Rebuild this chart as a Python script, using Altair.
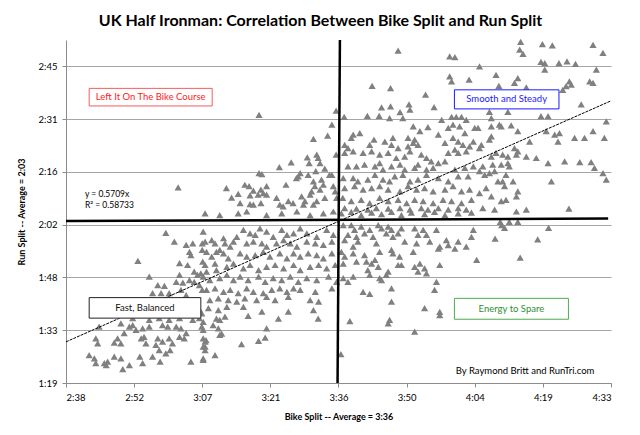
import altair as alt
import pandas as pd

# (bike split, run split) in minutes
fast_zone = [
    (182.1, 132.6), (179.5, 120.2), (181.3, 117.8), (183.8, 116.9), (185.2, 117.3), (184.5, 115.0),
    (184.8, 114.1), (187.2, 117.3), (173.6, 112.5), (187.3, 112.3), (182.4, 111.9), (184.1, 111.4),
    (185.5, 109.6), (186.2, 108.7), (186.9, 109.1), (176.0, 108.2), (177.8, 105.9), (179.2, 105.7),
    (182.4, 108.7), (181.7, 106.8), (183.1, 106.6), (184.5, 107.3), (182.7, 104.6), (183.8, 103.2),
    (185.5, 106.8), (186.6, 105.9), (176.7, 103.7), (178.5, 103.7), (180.2, 103.7), (165.4, 94.6),
    (170.0, 95.5), (171.8, 94.6), (172.5, 95.0), (170.7, 92.8), (169.3, 91.4), (170.0, 90.0),
    (168.6, 90.2), (173.2, 93.7), (174.6, 94.1), (176.0, 94.6), (174.9, 91.8), (175.3, 90.0),
    (174.3, 91.4), (164.7, 91.4), (165.1, 90.0), (163.3, 86.8), (164.4, 85.9), (164.7, 84.6),
    (166.5, 84.6), (166.9, 84.1), (167.2, 85.0), (168.6, 86.4), (170.0, 85.9), (171.8, 84.1),
    (174.6, 84.6), (176.7, 86.4), (178.1, 88.2), (177.4, 89.6), (179.5, 87.3), (177.8, 91.4),
    (178.8, 90.5), (180.2, 91.4), (180.9, 90.0), (178.8, 95.0), (179.9, 94.6), (181.7, 94.6),
    (182.7, 94.1), (183.8, 92.8), (183.4, 91.4), (182.4, 91.8), (184.8, 85.0), (172.5, 96.9),
    (176.0, 96.4), (178.1, 96.9), (180.2, 96.4), (182.4, 96.9), (185.2, 96.4), (186.6, 96.9),
    (178.3, 85.0), (180.4, 88.2), (187.4, 85.5), (170.4, 83.0), (174.0, 86.4), (187.2, 115.5),
    (187.2, 104.6), (186.7, 99.1), (187.4, 93.7), (187.8, 89.1), (188.0, 90.9),
]

core_top = [
    (199.2, 152.4), (215.5, 153.5), (214.6, 149.7), (213.7, 146.7), (210.7, 145.8), (215.5, 141.5),
    (211.4, 141.5), (211.7, 140.6), (209.4, 140.8), (209.8, 139.2), (212.1, 139.2), (206.0, 139.4),
    (203.5, 138.1), (211.2, 137.0), (213.1, 137.7), (214.1, 136.0), (207.9, 136.5), (207.5, 135.6),
    (207.1, 135.1), (209.6, 136.0), (199.2, 136.5), (199.8, 136.2), (204.9, 133.3), (200.8, 132.9),
    (196.2, 133.3), (197.1, 132.9), (192.3, 132.4), (194.8, 130.8), (193.4, 129.8), (195.2, 128.3),
    (198.0, 131.7), (199.6, 132.0), (200.1, 131.0), (199.0, 130.6), (197.3, 130.4), (200.8, 130.6),
    (202.9, 129.7), (197.3, 128.0), (198.0, 127.9), (199.6, 128.3), (203.6, 127.9), (204.3, 127.4),
    (205.4, 128.8), (206.4, 128.3), (208.2, 130.1), (208.9, 128.8), (208.6, 127.9), (210.7, 134.2),
    (211.0, 132.9), (210.3, 131.5), (210.0, 130.6), (212.4, 134.7), (212.8, 133.3), (212.1, 132.0),
    (213.1, 129.7), (211.4, 128.8), (210.7, 127.9), (214.6, 136.0), (214.9, 132.9), (215.3, 131.5),
    (215.6, 129.7),
]

core_low = [
    (187.8, 125.5), (190.9, 125.0), (194.8, 125.5), (196.6, 126.0), (200.8, 125.0), (204.0, 125.5),
    (207.2, 126.0), (210.0, 125.0), (212.8, 125.5), (214.9, 126.0),
    (187.4, 120.5), (187.8, 117.8), (189.2, 118.2), (189.9, 117.3), (191.7, 118.7), (192.0, 117.3),
    (190.9, 115.5), (193.1, 116.4), (193.8, 117.8), (194.5, 119.1),
    (195.9, 121.0), (197.3, 120.0), (198.4, 119.6), (199.4, 121.4), (200.8, 120.5), (202.2, 119.1),
    (204.0, 121.0), (205.1, 119.6), (206.5, 120.0), (207.9, 121.4), (209.3, 120.0), (211.4, 119.1),
    (213.5, 121.0), (214.9, 119.6),
    (196.6, 117.3), (198.0, 117.8), (199.8, 117.3), (200.8, 116.4), (202.9, 117.3), (204.4, 118.2),
    (205.8, 117.3), (207.2, 116.4), (209.3, 117.8), (211.1, 117.3), (212.8, 116.9), (214.6, 117.8),
    (188.1, 115.0), (190.2, 115.0), (189.2, 113.7), (191.7, 114.6), (192.7, 113.2), (195.2, 114.6),
    (196.6, 113.7), (198.4, 114.1), (200.1, 115.0), (201.5, 113.7), (203.6, 114.6), (205.1, 113.2),
    (206.5, 114.6), (207.9, 113.7), (209.6, 114.6), (211.4, 114.1), (212.8, 113.2), (214.6, 114.6),
    (187.8, 111.4), (189.9, 111.8), (188.1, 109.6), (190.2, 110.0), (192.4, 110.9), (193.8, 111.8),
    (195.9, 110.5), (197.3, 111.4), (199.1, 110.0), (200.8, 110.9), (202.6, 111.4), (204.4, 110.5),
    (206.5, 111.4), (207.9, 110.0), (210.0, 110.9), (211.8, 111.4), (213.5, 110.5), (215.3, 111.4),
    (187.4, 108.2), (188.8, 107.3), (190.9, 107.8), (192.4, 108.7), (193.8, 107.3), (195.2, 108.2),
    (196.9, 107.3), (199.1, 108.2), (200.5, 106.8), (202.2, 107.8), (204.0, 107.3), (205.8, 108.2),
    (207.5, 106.8), (209.3, 107.8), (211.4, 107.3), (213.9, 108.2), (215.6, 106.8),
    (188.1, 104.6), (189.9, 105.0), (191.7, 104.1), (193.1, 104.6), (194.8, 103.7), (196.6, 105.0),
    (198.0, 104.1), (200.1, 103.7), (201.9, 104.6), (203.6, 105.0), (205.1, 104.1), (206.5, 105.0),
    (207.9, 104.6), (211.1, 104.1), (214.6, 105.0),
    (188.8, 101.8), (190.6, 102.3), (192.7, 101.8), (194.5, 101.4), (196.2, 102.3), (198.7, 101.8),
    (200.8, 102.7), (202.6, 101.8), (205.4, 102.7), (210.0, 101.8), (211.8, 101.4),
    (188.5, 99.6), (190.6, 99.1), (192.4, 100.0), (195.9, 100.0), (199.8, 98.7), (203.3, 96.8),
    (205.4, 98.7), (210.7, 99.1), (211.7, 96.8), (190.2, 96.8), (192.0, 97.3), (190.9, 96.4),
    (196.9, 97.5), (189.5, 95.0), (190.6, 94.1), (190.9, 92.3), (191.3, 92.7), (200.8, 94.1),
    (187.4, 91.4), (187.8, 90.5), (187.4, 89.1), (187.8, 88.2), (187.4, 85.9), (189.9, 86.8),
    (195.5, 89.8), (199.1, 90.7), (200.5, 91.6), (187.1, 98.2), (187.4, 95.9), (187.1, 94.6),
]

spare_zone = [
    (216.6, 125.5), (218.7, 125.9), (220.8, 125.0), (223.0, 125.7), (225.1, 125.3), (227.2, 125.9),
    (229.3, 125.0), (231.4, 125.7), (234.2, 125.3), (236.3, 125.9), (238.5, 125.0), (241.3, 125.5),
    (244.1, 125.7),
    (217.0, 122.3), (218.7, 122.3), (219.4, 121.0), (220.8, 121.9), (221.5, 120.0), (218.0, 119.6),
    (217.3, 118.2), (220.1, 117.8), (219.1, 116.4), (223.3, 119.1), (224.0, 117.3), (225.1, 121.4),
    (226.1, 120.0), (226.5, 121.9), (227.2, 121.0), (227.5, 119.1), (228.6, 120.0), (229.3, 121.4),
    (230.0, 117.8), (232.1, 121.4), (232.8, 119.6), (233.9, 121.0), (234.6, 119.6), (235.3, 117.8),
    (232.5, 117.3), (231.8, 115.0), (236.7, 121.0), (237.1, 115.9), (237.4, 116.4), (238.8, 118.2),
    (239.2, 116.8), (240.6, 115.9), (241.3, 117.8), (243.0, 116.4), (244.1, 119.1), (244.5, 121.0),
    (245.2, 112.8), (216.6, 115.0), (217.3, 113.7), (217.0, 111.8), (219.1, 114.6), (219.8, 112.3),
    (221.5, 114.1), (221.9, 112.3), (223.0, 111.8), (223.7, 112.8), (224.7, 115.0), (227.2, 115.5),
    (227.5, 114.6), (228.9, 113.7), (222.2, 110.0), (222.6, 108.7), (224.4, 110.9), (226.5, 109.6),
    (226.1, 108.7), (228.6, 111.4), (229.3, 111.4), (232.1, 110.9), (232.8, 109.6), (233.2, 111.8),
    (234.2, 110.5), (234.6, 109.1), (237.4, 111.4), (217.0, 107.8), (218.0, 106.8), (219.1, 108.2),
    (224.7, 107.8), (225.1, 107.3), (221.2, 104.1), (222.6, 103.5), (227.2, 105.0), (227.2, 101.4),
    (236.7, 106.8), (236.3, 104.6), (234.2, 99.6), (237.4, 98.6), (237.4, 97.7), (218.4, 96.1),
    (226.5, 95.5), (226.8, 96.4), (232.1, 93.2), (216.5, 87.1), (219.8, 119.1), (222.6, 121.0),
    (224.4, 122.3),
    (249.1, 118.6), (250.5, 122.3), (251.1, 121.5), (250.2, 123.2), (252.1, 123.2), (253.9, 123.2),
    (254.4, 113.4), (258.1, 118.4), (260.4, 121.5),
]

steady_mid = [
    (228.6, 169.9), (239.5, 168.3), (240.6, 168.1), (239.5, 162.9), (239.9, 161.5), (243.6, 162.0),
    (223.1, 160.3), (227.0, 159.7), (234.4, 157.9), (225.1, 154.4), (227.0, 154.7), (230.9, 155.2),
    (231.1, 153.8), (236.2, 154.5), (217.2, 151.8), (222.1, 152.1), (224.6, 152.1), (226.8, 151.5),
    (229.0, 153.1), (229.6, 151.5), (237.8, 151.0), (239.9, 151.8), (240.9, 151.8), (242.0, 151.8),
    (243.0, 151.0), (231.8, 149.2), (233.2, 147.9), (234.9, 149.0), (237.1, 147.0), (239.2, 148.8),
    (240.2, 149.7), (241.6, 149.2), (242.7, 147.4), (244.8, 148.8), (219.1, 147.0), (220.5, 147.4),
    (218.7, 146.1), (217.3, 144.2), (218.0, 143.3), (223.5, 145.6), (222.6, 144.2), (225.8, 145.1),
    (227.5, 146.1), (227.2, 144.2), (228.6, 143.3), (230.7, 146.1), (231.8, 144.7), (230.7, 143.8),
    (232.8, 144.2), (232.1, 145.6), (217.3, 142.0), (219.1, 142.4), (221.2, 142.0), (223.0, 142.4),
    (224.7, 141.5), (226.5, 142.0), (228.2, 140.6), (230.0, 141.0), (231.1, 142.4), (233.5, 141.5),
    (234.6, 140.6), (235.6, 139.7), (237.1, 139.2), (238.5, 139.7), (238.5, 144.7), (240.2, 146.1),
    (241.3, 145.1), (242.3, 144.2), (243.7, 143.8), (240.6, 142.9), (239.2, 142.0), (241.3, 142.0),
    (243.0, 142.4), (244.5, 145.1), (218.0, 138.3), (219.8, 138.3), (221.5, 138.8), (223.7, 138.3),
    (224.7, 139.2), (225.4, 137.4), (227.2, 138.3), (229.0, 138.8), (230.0, 137.4), (232.1, 137.9),
    (232.8, 138.8), (234.6, 137.4), (236.0, 137.9), (240.6, 137.4), (242.7, 137.9), (244.5, 138.3),
    (241.3, 135.6), (243.4, 135.6), (239.2, 134.2), (217.0, 135.1), (219.1, 135.1), (220.1, 134.2),
    (222.2, 134.7), (223.7, 136.0), (225.4, 134.7), (226.8, 134.2), (227.9, 135.6), (229.6, 136.0),
    (231.1, 134.2), (232.8, 134.7), (234.6, 136.0), (237.1, 135.1), (217.3, 132.4), (219.4, 132.9),
    (221.2, 132.0), (223.0, 132.4), (224.7, 132.9), (226.5, 132.0), (229.0, 131.5), (230.7, 132.9),
    (232.5, 132.0), (234.2, 132.4), (236.0, 131.5), (238.5, 132.0), (240.2, 132.9), (242.0, 131.5),
    (243.7, 132.0), (216.9, 129.7), (218.7, 128.8), (220.8, 129.2), (222.6, 128.3), (224.7, 129.7),
    (226.5, 128.8), (228.6, 129.2), (230.4, 128.3), (232.1, 129.2), (233.9, 128.8), (236.0, 128.3),
    (238.1, 129.2), (239.9, 128.8), (242.0, 128.3), (244.1, 129.2), (217.3, 126.9), (219.8, 126.8),
    (222.2, 126.5), (224.0, 126.9), (226.5, 126.8), (229.0, 126.9), (231.1, 126.5), (233.5, 126.9),
    (234.9, 126.5), (237.1, 126.9), (239.2, 126.5), (241.3, 126.9), (243.0, 126.5),
]

steady_right = [
    (254.5, 172.3), (254.3, 170.2), (255.0, 169.0), (259.1, 171.7), (261.2, 171.3), (269.8, 171.5),
    (271.9, 169.3), (258.8, 166.8), (259.6, 166.5), (259.6, 164.7), (262.6, 166.5), (264.3, 167.0),
    (266.1, 166.3), (270.5, 164.7), (245.8, 165.6), (249.3, 163.3), (253.9, 162.4), (253.2, 161.1),
    (255.7, 159.9), (249.9, 160.3), (264.8, 161.5), (265.2, 160.6), (264.1, 160.2), (263.4, 159.2),
    (269.1, 161.5), (269.8, 161.1), (267.3, 155.2), (247.9, 153.2), (248.3, 151.5), (251.8, 153.2),
    (258.8, 152.0), (260.3, 152.0), (272.6, 150.6), (245.5, 148.8), (248.3, 149.2), (250.0, 149.7),
    (250.4, 149.2), (252.5, 149.5), (253.9, 147.9), (248.3, 146.5), (247.9, 145.6), (259.9, 147.9),
    (261.7, 147.0), (262.7, 147.4), (262.4, 145.1), (265.9, 146.1), (268.0, 146.1), (269.8, 147.9),
    (272.2, 146.1), (256.4, 145.1), (246.2, 144.2), (245.8, 143.3), (253.2, 143.3), (253.9, 142.4),
    (253.6, 141.5), (255.7, 141.0), (257.8, 140.6), (249.3, 142.0), (250.7, 141.5), (251.8, 141.0),
    (248.3, 141.0), (260.3, 139.2), (263.8, 139.7), (267.0, 139.5), (269.4, 139.5), (251.8, 139.2),
    (252.1, 138.3), (250.4, 138.8), (248.6, 138.8), (246.5, 138.3), (245.8, 137.0), (246.9, 136.0),
    (247.9, 136.5), (249.0, 137.0), (251.4, 136.0), (250.7, 134.2), (252.9, 134.2), (251.1, 132.9),
    (249.7, 134.2), (261.0, 134.2), (270.1, 137.9), (271.9, 136.5), (272.6, 134.7), (247.2, 132.4),
    (245.8, 131.0), (248.3, 130.1), (253.9, 131.5), (253.6, 130.1), (250.4, 128.8), (251.4, 129.2),
    (255.7, 126.5), (253.6, 126.0), (249.0, 126.5), (246.5, 126.9), (264.7, 126.8),
]

x_ticks = [158.4, 172.8, 187.2, 201.6, 216.0, 230.4, 244.8, 259.2, 273.6]
y_ticks = [79.2, 93.6, 108.0, 122.4, 136.8, 151.2, 165.6]
slope = 0.5709

splits = pd.DataFrame(fast_zone + core_top + core_low + spare_zone + steady_mid + steady_right,
                      columns=["bike", "run"])

avg_lines = pd.DataFrame({
    "bike": [216.3, 158.4], "bike2": [215.8, 273.0],
    "run": [172.8, 123.4], "run2": [79.2, 124.1],
})
trend = pd.DataFrame({"bike": [158.4, 273.6]})
trend["run"] = trend["bike"] * slope

boxes = pd.DataFrame({
    "label": ["Left It On The Bike Course", "Smooth and Steady", "Fast, Balanced", "Energy to Spare"],
    "bike": [163.3, 240.5, 163.3, 240.5], "bike2": [189.3, 262.6, 186.9, 264.6],
    "run": [159.6, 159.2, 102.5, 102.3], "run2": [154.8, 154.0, 96.9, 96.6],
    "edge": ["#f25c5c", "#1a1aff", "#222222", "#4cae4c"],
    "ink": ["#ff2020", "#1a1aff", "#111111", "#2f8f2f"],
})
boxes["mid_x"] = (boxes["bike"] + boxes["bike2"]) / 2
boxes["mid_y"] = (boxes["run"] + boxes["run2"]) / 2

notes = pd.DataFrame({
    "bike": [162.4, 162.4, 240.8],
    "run": [130.8, 127.8, 82.5],
    "text": ["y = 0.5709x", "R\u00b2 = 0.58733", "By Raymond Britt and RunTri.com"],
    "size": [8.5, 8.5, 9.5],
})

hms = ("floor(datum.value / 60) + ':' + (floor(datum.value % 60) < 10 ? '0' : '') "
       "+ floor(datum.value % 60)")
xs = alt.Scale(domain=[158.4, 273.6], nice=False, zero=False)
ys = alt.Scale(domain=[79.2, 172.8], nice=False, zero=False)

points = alt.Chart(splits).mark_point(
    shape="triangle-up", filled=True, size=52, color="#808080", opacity=1
).encode(
    x=alt.X("bike:Q", scale=xs, axis=alt.Axis(values=x_ticks, labelExpr=hms, grid=False,
            title="Bike Split -- Average = 3:36")),
    y=alt.Y("run:Q", scale=ys, axis=alt.Axis(values=y_ticks, labelExpr=hms, grid=True,
            title="Run Split -- Average = 2:03")),
)

trend_line = alt.Chart(trend).mark_line(color="black", strokeWidth=1, strokeDash=[3, 1]).encode(
    x=alt.X("bike:Q", scale=xs), y=alt.Y("run:Q", scale=ys)
)

avg_rules = alt.Chart(avg_lines).mark_rule(color="black", strokeWidth=2.5).encode(
    x=alt.X("bike:Q", scale=xs), x2="bike2", y=alt.Y("run:Q", scale=ys), y2="run2"
)

box_rects = alt.Chart(boxes).mark_rect(fill="white", strokeWidth=1).encode(
    x=alt.X("bike:Q", scale=xs), x2="bike2", y=alt.Y("run:Q", scale=ys), y2="run2",
    stroke=alt.Stroke("edge:N", scale=None),
)

box_text = alt.Chart(boxes).mark_text(font="Lato", fontSize=9.5, baseline="middle").encode(
    x=alt.X("mid_x:Q", scale=xs), y=alt.Y("mid_y:Q", scale=ys), text="label:N",
    color=alt.Color("ink:N", scale=None),
)

note_text = alt.Chart(notes).mark_text(font="Lato", align="left", baseline="middle", color="black").encode(
    x=alt.X("bike:Q", scale=xs), y=alt.Y("run:Q", scale=ys), text="text:N",
    size=alt.Size("size:Q", scale=None),
)

chart = alt.layer(points, trend_line, avg_rules, box_rects, box_text, note_text).properties(
    width=545, height=343,
    padding={"left": 58, "top": 32, "right": 21, "bottom": 40},
    autosize=alt.AutoSizeParams(type="none"),
    title=alt.TitleParams(
        "UK Half Ironman: Correlation Between Bike Split and Run Split",
        font="Lato", fontSize=16, fontWeight="bold", color="black",
        anchor="middle", frame="group", offset=10, dx=-18,
    ),
).configure_view(strokeWidth=0).configure_axis(
    labelFont="Lato", labelFontSize=9.5, labelColor="black",
    titleFont="Lato", titleFontSize=9, titleFontWeight="bold", titleColor="black",
    domainColor="#8c8c8c", tickColor="#8c8c8c", tickSize=4,
    gridColor="#a6a6a6", gridWidth=1,
).configure_axisX(labelPadding=5, titlePadding=11).configure_axisY(labelPadding=5, titlePadding=12)

chart.save("out.html", embed_options={"renderer": "svg", "actions": False})
